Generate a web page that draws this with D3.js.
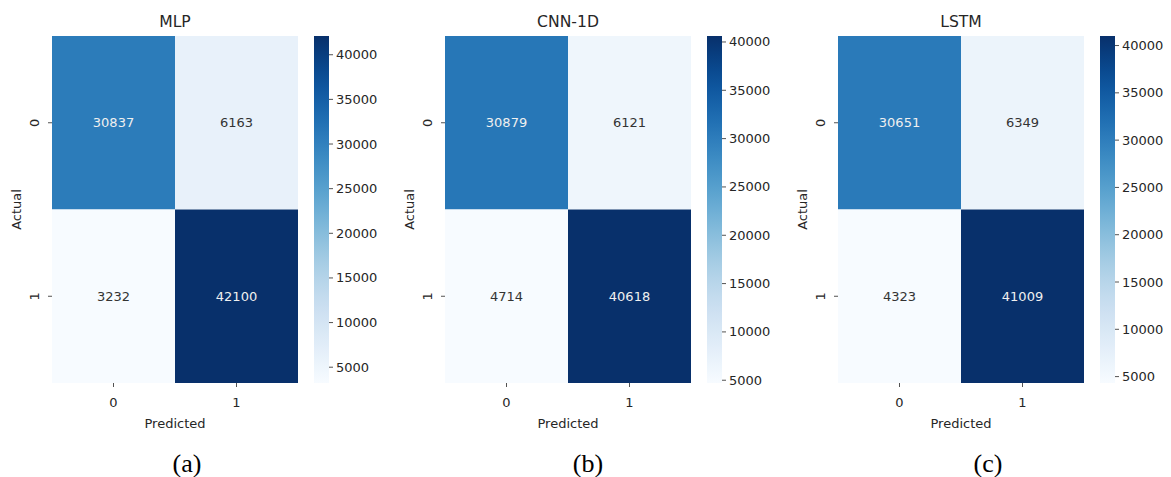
<!DOCTYPE html>
<html>
<head>
<meta charset="utf-8">
<script src="https://cdn.jsdelivr.net/npm/d3@7.9.0/dist/d3.min.js"></script>
<style>
  body { margin: 0; background: #fff; }
  svg text { font-family: "DejaVu Sans", sans-serif; fill: #262626; }
</style>
</head>
<body>
<svg id="chart" width="1171" height="477"></svg>
<script>
// confusion matrices
const models = ['MLP', 'CNN-1D', 'LSTM'];
const captions = ['(a)', '(b)', '(c)'];
const classLabels = ['0', '1'];
const mlpMatrix = [[30837, 6163], [3232, 42100]];
const cnnMatrix = [[30879, 6121], [4714, 40618]];
const lstmMatrix = [[30651, 6349], [4323, 41009]];
const matrices = [mlpMatrix, cnnMatrix, lstmMatrix];
const cbarTicks = [5000, 10000, 15000, 20000, 25000, 30000, 35000, 40000];

const svg = d3.select('#chart');
const panelLeft = [52, 445, 838];
const captionX = [187, 588, 988];
const mapTop = 36, mapBottom = 383, mapW = 246;
const cbarGap = 262, cbarW = 15;

const defs = svg.append('defs');

models.forEach((name, p) => {
    const m = matrices[p];
    const flat = m.flat();
    const lo = d3.min(flat), hi = d3.max(flat);
    const color = d3.scaleSequential(d3.interpolateBlues).domain([lo, hi]);

    const g = svg.append('g').attr('transform', `translate(${panelLeft[p]},0)`);
    const x = d3.scaleBand().domain(classLabels).range([0, mapW]);
    const y = d3.scaleBand().domain(classLabels).range([mapTop, mapBottom]);

    // cells
    m.forEach((row, i) => {
        row.forEach((v, j) => {
            const c = d3.color(color(v));
            const lum = 0.2126 * c.r + 0.7152 * c.g + 0.0722 * c.b;
            g.append('rect')
                .attr('x', x(classLabels[j]))
                .attr('y', y(classLabels[i]))
                .attr('width', x.bandwidth())
                .attr('height', y.bandwidth())
                .attr('fill', color(v));
            g.append('text')
                .attr('x', x(classLabels[j]) + x.bandwidth() / 2)
                .attr('y', y(classLabels[i]) + y.bandwidth() / 2)
                .attr('text-anchor', 'middle')
                .attr('dominant-baseline', 'central')
                .attr('font-size', 13)
                .style('fill', lum < 150 ? '#f0f0f0' : '#333')
                .text(v);
        });
    });

    // x axis
    classLabels.forEach(l => {
        const cx = x(l) + x.bandwidth() / 2;
        g.append('line').attr('x1', cx).attr('x2', cx)
            .attr('y1', mapBottom).attr('y2', mapBottom + 4)
            .attr('stroke', '#262626').attr('stroke-width', 0.8);
        g.append('text').attr('x', cx).attr('y', mapBottom + 24)
            .attr('text-anchor', 'middle').attr('font-size', 13).text(l);
    });
    g.append('text').attr('x', mapW / 2).attr('y', mapBottom + 45)
        .attr('text-anchor', 'middle').attr('font-size', 13).text('Predicted');

    // y axis
    classLabels.forEach(l => {
        const cy = y(l) + y.bandwidth() / 2;
        g.append('line').attr('x1', -4).attr('x2', 0)
            .attr('y1', cy).attr('y2', cy)
            .attr('stroke', '#262626').attr('stroke-width', 0.8);
        g.append('text')
            .attr('transform', `translate(-13,${cy}) rotate(-90)`)
            .attr('text-anchor', 'middle').attr('font-size', 13).text(l);
    });
    g.append('text')
        .attr('transform', `translate(-31,${(mapTop + mapBottom) / 2}) rotate(-90)`)
        .attr('text-anchor', 'middle').attr('font-size', 13).text('Actual');

    // title
    g.append('text').attr('x', mapW / 2).attr('y', 27)
        .attr('text-anchor', 'middle').attr('font-size', 15.6).text(name);

    // caption
    svg.append('text').attr('x', captionX[p]).attr('y', 472)
        .attr('text-anchor', 'middle').attr('font-size', 26)
        .style('font-family', '"Liberation Serif", "Times New Roman", serif')
        .style('fill', '#000').text(captions[p]);

    // colorbar
    const gid = 'grad' + p;
    const grad = defs.append('linearGradient').attr('id', gid)
        .attr('x1', 0).attr('y1', 1).attr('x2', 0).attr('y2', 0);
    d3.range(0, 1.0001, 0.05).forEach(t => {
        grad.append('stop').attr('offset', t).attr('stop-color', d3.interpolateBlues(t));
    });
    const cb = g.append('g').attr('transform', `translate(${cbarGap},0)`);
    cb.append('rect').attr('x', 0).attr('y', mapTop).attr('width', cbarW)
        .attr('height', mapBottom - mapTop).attr('fill', `url(#${gid})`);
    const cy = d3.scaleLinear().domain([lo, hi]).range([mapBottom, mapTop]);
    cbarTicks.filter(t => t >= lo && t <= hi).forEach(t => {
        cb.append('line').attr('x1', cbarW).attr('x2', cbarW + 4)
            .attr('y1', cy(t)).attr('y2', cy(t))
            .attr('stroke', '#262626').attr('stroke-width', 0.8);
        cb.append('text').attr('x', cbarW + 7).attr('y', cy(t))
            .attr('dominant-baseline', 'central').attr('font-size', 13).text(t);
    });
});
</script>
</body>
</html>
